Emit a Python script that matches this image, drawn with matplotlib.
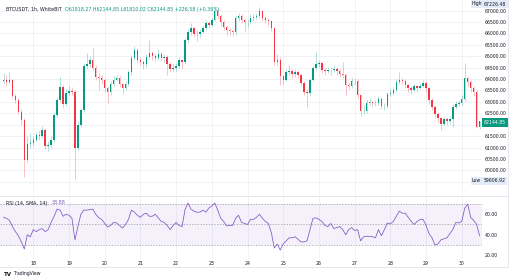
"""BTCUSDT 1h candles with RSI pane, TradingView style."""

import numpy as np
import matplotlib.pyplot as plt
from matplotlib.lines import Line2D
from matplotlib.colors import to_rgba

first_open = 63900
closes = [63960, 63870, 63960, 63260, 63080, 62560, 62210, 60450, 61150, 61200,
          61330, 61550, 61500, 61770, 61070, 61110, 61330, 62430, 63080, 63650,
          62910, 63390, 63480, 63430, 60980, 61990, 62650, 64580, 64660, 64840,
          64490, 64090, 64050, 63960, 63610, 63430, 63790, 63960, 64050, 63790,
          63610, 63790, 64310, 64930, 65280, 64840, 64750, 64660, 64970, 65150,
          65010, 64930, 65100, 64930, 64970, 64660, 64440, 64490, 64580, 64840,
          64750, 65720, 66070, 66240, 65980, 65990, 66070, 66240, 66460, 66370,
          66590, 66990, 66770, 66500, 66290, 66150, 66110, 66070, 66680, 66770,
          66590, 66500, 66510, 66680, 66720, 66770, 66990, 66680, 66590, 66550,
          66240, 64750, 64840, 64140, 63960, 64310, 64360, 64220, 64310, 64180,
          63830, 63430, 63390, 63960, 64490, 64660, 64710, 64400, 64360, 64400,
          64390, 64440, 64360, 64220, 64180, 63740, 63700, 63920, 63910, 63300,
          62600, 62610, 62950, 63000, 62950, 62960, 63130, 62820, 62830, 63350,
          63390, 63520, 63870, 63960, 63920, 63740, 63610, 63520, 63700, 63610,
          63700, 63830, 63610, 63080, 62780, 62470, 62290, 62030, 62250, 62160,
          62250, 62780, 62910, 62950, 63130, 64050, 63870, 63610, 63430, 61918.27,
          62144.85]
highs = [64250, 64200, 64300, 64020, 63350, 63150, 62700, 62300, 61500, 61650,
         61500, 61700, 61750, 61950, 61850, 61300, 61500, 62550, 63200, 64100,
         63750, 63550, 63700, 63650, 63500, 62100, 62750, 64700, 65150, 65000,
         65370, 64600, 64250, 64200, 64050, 63700, 63900, 64150, 64200, 64150,
         63850, 63900, 64400, 65050, 65450, 65350, 64950, 64850, 65100, 65700,
         65250, 65100, 65300, 65200, 65100, 65050, 64750, 64650, 64700, 64950,
         64900, 65800, 66200, 66450, 66300, 66150, 66200, 66350, 66600, 66550,
         66700, 67226.48, 67100, 66850, 66600, 66350, 66250, 66200, 66800, 66900,
         66850, 66650, 66650, 66850, 66850, 66900, 67150, 67050, 66750, 66700,
         66600, 66300, 65100, 64950, 64200, 64450, 64600, 64450, 64450, 64400,
         64250, 63900, 63550, 64050, 64600, 65180, 64850, 64800, 64500, 64550,
         64550, 64600, 64550, 64450, 64750, 64250, 63850, 64050, 64050, 64000,
         63350, 62850, 63100, 63150, 63100, 63100, 63250, 63200, 62950, 63450,
         63550, 63650, 64000, 64300, 64050, 64000, 63800, 63700, 63800, 63750,
         63850, 63950, 63900, 63650, 63150, 62850, 62550, 62350, 62350, 62350,
         62400, 62900, 63050, 63100, 63300, 64720, 64150, 63950, 63700, 63500,
         62144.85]
lows = [63780, 63700, 63800, 63150, 62950, 62450, 62000, 59700, 60350, 61000,
        61050, 61250, 61350, 61400, 60950, 60830, 61000, 61250, 62350, 63000,
        62750, 62800, 63300, 63300, 59606.92, 60900, 61900, 62550, 64450, 64550,
        64400, 63950, 63520, 63800, 63450, 62950, 63300, 63700, 63900, 63650,
        63350, 63500, 63700, 64200, 64850, 64700, 64600, 64450, 64550, 64900,
        64850, 64800, 64850, 64800, 64700, 64200, 64300, 64300, 64350, 64500,
        64450, 64650, 65600, 65950, 65850, 65650, 65850, 66000, 66150, 66250,
        66300, 66550, 66650, 66350, 66150, 65950, 65930, 65900, 65950, 66550,
        66450, 66050, 66300, 66400, 66550, 66650, 66700, 66550, 66450, 66350,
        66100, 64600, 64600, 63750, 63800, 63900, 64200, 64050, 64100, 64050,
        63700, 63300, 62780, 63250, 63900, 64400, 64550, 64250, 64200, 64250,
        64200, 64300, 64200, 64100, 64050, 63300, 63550, 63600, 63750, 63150,
        62400, 62450, 62500, 62850, 62800, 62800, 62850, 62700, 62650, 62750,
        63250, 63300, 63450, 63800, 63800, 63600, 63450, 63350, 63450, 63450,
        63550, 63650, 63450, 62900, 62650, 62300, 62100, 61780, 61950, 62000,
        62050, 61900, 62700, 62800, 62850, 63050, 63700, 63450, 63250, 61850,
        61810.02]
rsi = [57, 56, 54, 48, 43, 39, 33, 26, 40, 38,
       45, 43, 45, 46, 43, 45, 52, 58, 65, 64,
       58, 60, 59, 56, 35, 48, 60, 64, 64, 64.5,
       65, 60, 56.5, 55, 51, 47.5, 49, 52, 51.5, 49,
       46.5, 50, 55, 64, 62, 59, 57, 60, 61, 58,
       58, 60, 56.5, 53, 52, 49, 45, 49, 52, 49,
       48, 64.5, 71, 65, 63, 62, 62, 64, 62, 66,
       68, 71, 64, 56, 53, 48.5, 49, 49, 56, 59,
       52, 51, 50, 55, 55, 57, 60, 56, 53, 51,
       42, 27, 31, 25, 31, 34, 37, 37, 38, 35.5,
       33, 33, 34, 45, 56, 56.5, 55, 53, 49, 48,
       51, 46, 47, 48, 45, 40, 45, 47, 44, 45,
       34, 38, 38.5, 38.5, 38, 37, 45, 39, 45, 51.5,
       50.5, 53, 58, 63, 61, 61, 57, 53, 50, 53,
       55, 55, 49, 41, 37, 30, 31, 35, 36, 37,
       41, 45, 52, 51.5, 53, 66, 70, 57, 54, 50,
       38.88]
day_labels = ["18", "19", "20", "21", "22", "23", "24", "25", "26", "27", "28", "29", "30"]
day_index = [10, 22, 34, 46, 58, 70, 82, 94, 106, 118, 130, 142, 154]
price_labels = [60000, 60500, 61000, 61500, 62500, 63000, 63500, 64000, 64500,
                65000, 65500, 66000, 66500, 67000]
price_grid = [59500, 60000, 60500, 61000, 61500, 62000, 62500, 63000, 63500,
              64000, 64500, 65000, 65500, 66000, 66500, 67000]

UP = "#089981"
DOWN = "#F23645"
GRID = "#eef0f4"
TXT = "#131722"
PURPLE = "#7E57C2"
W, H = 512, 280


def box(x0, y0, x1, y1):
    """Pixel box (from top left) to figure fraction rect."""
    return [x0 / W, 1 - y1 / H, (x1 - x0) / W, (y1 - y0) / H]


fig = plt.figure(figsize=(W / 100, H / 100), dpi=100)
fig.patch.set_facecolor("white")
ax = fig.add_axes(box(0, 0, 482, 195))
ax2 = fig.add_axes(box(0, 196, 482, 259), sharex=ax)

idx = np.arange(len(closes))
c = np.array(closes)
o = np.array([first_open] + closes[:-1])
up = c >= o
body_col = [UP if u else DOWN for u in up]
wick_col = [to_rgba(UP if u else DOWN, 0.35) for u in up]

# grid
for v in price_grid:
    ax.axhline(v, color=GRID, lw=0.6, zorder=0)
for d in day_index:
    ax.axvline(d, color=GRID, lw=0.6, zorder=0)
    ax2.axvline(d, color=GRID, lw=0.6, zorder=0)

# candles
ax.vlines(idx, lows, highs, colors=wick_col, lw=0.6, zorder=2)
ax.bar(idx, np.maximum(np.abs(c - o), 15), bottom=np.minimum(o, c), width=0.48,
       color=body_col, linewidth=0, zorder=3)

ax.set_xlim(-1.18, 160.8)
ax.set_ylim(58917, 67469)
ax.yaxis.tick_right()
ax.set_yticks(price_labels)
ax.set_yticklabels([f"{v:.2f}" for v in price_labels])
ax.tick_params(axis="y", length=0, pad=2, labelsize=3.3, labelcolor=TXT)
ax.tick_params(axis="x", bottom=False, labelbottom=False)
for s in ax.spines.values():
    s.set_visible(False)

# RSI pane
ax2.axhspan(30, 70, color=PURPLE, alpha=0.08, lw=0, zorder=0)
for lvl in (70, 50, 30):
    ax2.axhline(lvl, color="#9598a1", lw=0.5, ls=(0, (2, 2)), zorder=1)
ax2.plot(idx, rsi, color=PURPLE, lw=0.55, zorder=3)
ax2.set_ylim(16.3, 77.8)
ax2.yaxis.tick_right()
ax2.set_yticks([20, 40, 60])
ax2.set_yticklabels(["20.00", "40.00", "60.00"])
ax2.set_xticks(day_index)
ax2.set_xticklabels(day_labels)
ax2.tick_params(axis="y", length=0, pad=2, labelsize=3.3, labelcolor=TXT)
ax2.tick_params(axis="x", length=0, pad=1.5, labelsize=3.3, labelcolor=TXT)
for s in ax2.spines.values():
    s.set_visible(False)

# pane separators and frame
sep = "#e0e3eb"
fig.add_artist(Line2D([0, 508 / W], [1 - 195.5 / H] * 2, color=sep, lw=0.6))
fig.add_artist(Line2D([0, 508 / W], [1 - 267 / H] * 2, color=sep, lw=0.6))
fig.add_artist(Line2D([508 / W] * 2, [1 - 267 / H, 1], color=sep, lw=0.6))

# header legend
r = fig.canvas.get_renderer()
t1 = fig.text(6 / W, 1 - 9 / H, "BTCUSDT, 1h, WhiteBIT", fontsize=3.4, color=TXT, va="center")
x = t1.get_window_extent(r).x1 + 3
fig.text(x / W, 1 - 9 / H, "O61918.27 H62144.85 L61810.02 C62144.85 +226.58 (+0.36%)",
         fontsize=3.4, color=UP, va="center")

t2 = fig.text(6 / W, 1 - 203 / H, "RSI (14, SMA, 14)", fontsize=3.4, color=TXT, va="center")
x = t2.get_window_extent(r).x1 + 4
fig.text(x / W, 1 - 203 / H, "38.88", fontsize=3.4, color=PURPLE, va="center")

# price scale badges
badge = dict(boxstyle="square,pad=0.3", fc="#e3ecf8", ec="none")
for ypx, tag, val in ((4, "High", "67226.48"), (181, "Low", "59606.92")):
    fig.text(472 / W, 1 - ypx / H, tag, fontsize=3.3, color=TXT, va="center", bbox=badge)
    fig.text(484 / W, 1 - ypx / H, val, fontsize=3.3, color=TXT, va="center", bbox=badge)
fig.text(484 / W, 1 - 122.7 / H, "62144.85", fontsize=3.3, color="white", va="center",
         bbox=dict(boxstyle="square,pad=0.4", fc=UP, ec="none"))

# logo
fig.text(4 / W, 1 - 274 / H, "TV", fontsize=4, fontweight="bold", color=TXT, va="center")
fig.text(13 / W, 1 - 274 / H, "TradingView", fontsize=3.3, color=TXT, va="center")

fig.savefig("out.png", dpi=100, facecolor="white")
